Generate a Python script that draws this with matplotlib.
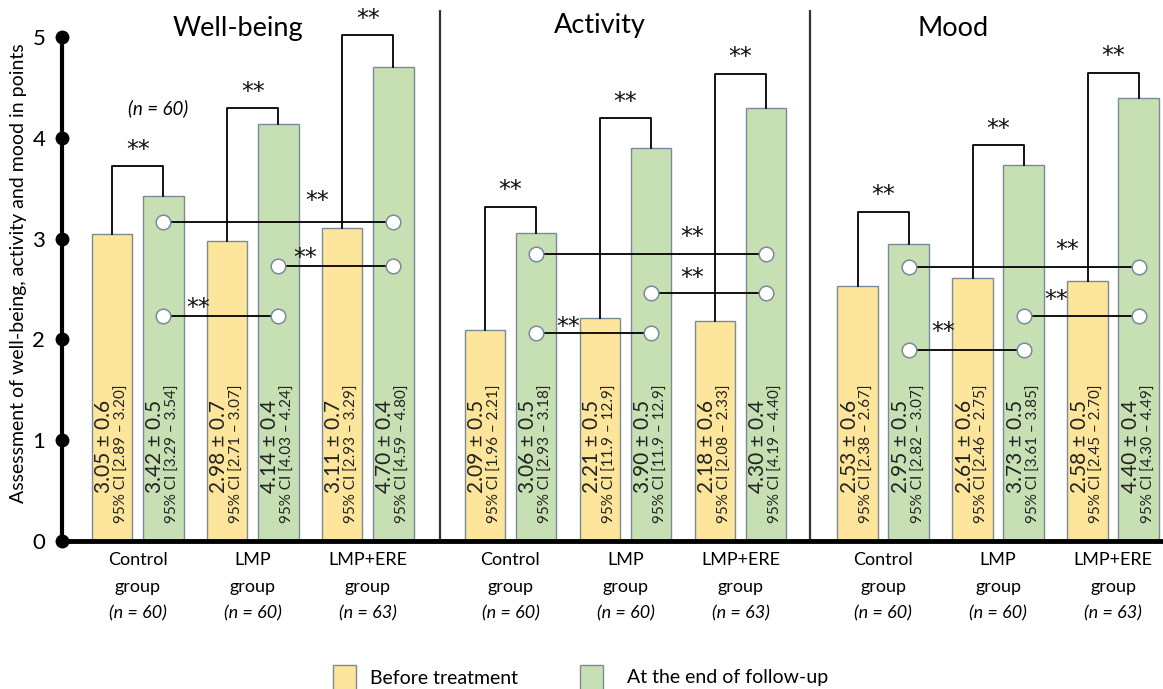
import numpy as np
import matplotlib.pyplot as plt
from matplotlib.patches import Rectangle

plt.rcParams['font.family'] = ['Lato', 'DejaVu Sans']

# ---- data ----
panels = ['Well-being', 'Activity', 'Mood']
groups = ['Control', 'LMP', 'LMP+ERE']
group_n = ['(n = 60)', '(n = 60)', '(n = 63)']

before_mean = [[3.05, 2.98, 3.11], [2.09, 2.21, 2.18], [2.53, 2.61, 2.58]]
before_sd = [[0.6, 0.7, 0.7], [0.5, 0.5, 0.6], [0.6, 0.6, 0.5]]
before_ci = [['2.89 – 3.20', '2.71 – 3.07', '2.93 – 3.29'],
             ['1.96 – 2.21', '11.9 – 12.9', '2.08 – 2.33'],
             ['2.38 – 2.67', '2.46 – 2.75', '2.45 – 2.70']]

after_mean = [[3.42, 4.14, 4.70], [3.06, 3.90, 4.30], [2.95, 3.73, 4.40]]
after_sd = [[0.5, 0.4, 0.4], [0.5, 0.5, 0.4], [0.5, 0.5, 0.4]]
after_ci = [['3.29 – 3.54', '4.03 – 4.24', '4.59 – 4.80'],
            ['2.93 – 3.18', '11.9 – 12.9', '4.19 – 4.40'],
            ['2.82 – 3.07', '3.61 – 3.85', '4.30 – 4.49']]

# before vs after brackets (height of bracket top)
bracket_top = [[3.72, 4.30, 5.02], [3.32, 4.20, 4.64], [3.27, 3.93, 4.65]]

# between-group comparisons of the follow-up bars: (group a, group b, level)
between = [[(0, 2, 3.17), (1, 2, 2.73), (0, 1, 2.23)],
           [(0, 2, 2.85), (1, 2, 2.46), (0, 1, 2.06)],
           [(0, 2, 2.72), (1, 2, 2.23), (0, 1, 1.90)]]

# ---- layout ----
yellow = '#FDE59C'
green = '#C6E0B4'
edge = '#7A8A99'
bar_w = 0.35
half = 0.222
panel_step = 3.24
first = 0.66

# star placement along the between lines: (fraction along, offset above)
star_pos = [[(0.67, 0.20), (0.23, 0.08), (0.30, 0.08)],
            [(0.68, 0.17), (0.36, 0.15), (0.28, 0.06)],
            [(0.69, 0.17), (0.28, 0.16), (0.30, 0.17)]]

star_kw = dict(ha='center', va='center', fontsize=17, family='DejaVu Sans', color='#111111')

fig = plt.figure(figsize=(11.63, 6.89), dpi=100)
ax = fig.add_axes([62 / 1163, 148 / 689, 1101 / 1163, 536 / 689])
ax.set_xlim(0, 9.574)
ax.set_ylim(0, 5.32)

for p in range(3):
    centers = first + p * panel_step + np.arange(3)
    xb = centers - half
    xa = centers + half
    ax.bar(xb, before_mean[p], bar_w, color=yellow, edgecolor=edge, linewidth=1, zorder=2)
    ax.bar(xa, after_mean[p], bar_w, color=green, edgecolor=edge, linewidth=1, zorder=2)

    for g in range(3):
        for x, m, sd, ci in [(xb[g], before_mean[p][g], before_sd[p][g], before_ci[p][g]),
                             (xa[g], after_mean[p][g], after_sd[p][g], after_ci[p][g])]:
            ax.text(x - 0.07, 0.48, f'{m:.2f} ± {sd:.1f}', rotation=90, ha='center',
                    va='bottom', fontsize=15, color='#222222', zorder=3)
            ax.text(x + 0.085, 0.18, f'95% CI [{ci}]', rotation=90, ha='center',
                    va='bottom', fontsize=11, color='#222222', zorder=3)

        # before/after bracket
        top = bracket_top[p][g]
        ax.plot([xb[g], xb[g], xa[g], xa[g]],
                [before_mean[p][g], top, top, after_mean[p][g]],
                color='black', lw=1.3, zorder=3)
        ax.text(centers[g], top + 0.16, '**', **star_kw)

        # x labels
        ax.text(centers[g], -0.19, groups[g], ha='center', va='center', fontsize=13, clip_on=False)
        ax.text(centers[g], -0.46, 'group', ha='center', va='center', fontsize=13, clip_on=False)
        ax.text(centers[g], -0.72, group_n[g], ha='center', va='center', fontsize=13,
                style='italic', clip_on=False)

    for (a, b, lvl), (fr, off) in zip(between[p], star_pos[p]):
        ax.plot([xa[a], xa[b]], [lvl, lvl], color='black', lw=1.3, zorder=4)
        ax.plot([xa[a], xa[b]], [lvl, lvl], 'o', ms=10.5, mfc='white', mec=edge, mew=1.1, zorder=5)
        sx = xa[a] + fr * (xa[b] - xa[a])
        ax.text(sx, lvl + off, '**', zorder=5, **star_kw)

# panel titles
ax.text(1.53, 5.09, panels[0], ha='center', va='center', fontsize=19.5)
ax.text(4.68, 5.12, panels[1], ha='center', va='center', fontsize=19.5)
ax.text(7.75, 5.09, panels[2], ha='center', va='center', fontsize=19.5)
ax.text(0.835, 4.30, '(n = 60)', ha='center', va='center', fontsize=13.5, style='italic')

# separators
ax.vlines([3.287, 6.504], 0, 5.27, color='#333333', lw=1.6, zorder=1)

# axes styling
for s in ['top', 'right']:
    ax.spines[s].set_visible(False)
ax.spines['left'].set_bounds(0, 5)
ax.spines['left'].set_linewidth(3)
ax.spines['bottom'].set_linewidth(3.5)
ax.set_xticks([])
ax.set_yticks(range(6))
ax.tick_params(axis='y', length=0, pad=12, labelsize=16)
ax.plot([0] * 6, range(6), 'o', ms=9, color='black', clip_on=False, zorder=6)
ax.set_ylabel('Assessment of well-being, activity and mood in points', fontsize=14, labelpad=4)

# legend
fig.add_artist(Rectangle((333 / 1163, -0.01), 23 / 1163, 31 / 689, transform=fig.transFigure,
                         facecolor=yellow, edgecolor=edge, lw=1))
fig.text(370 / 1163, 11 / 689, 'Before treatment', ha='left', va='center', fontsize=14)
fig.add_artist(Rectangle((580 / 1163, -0.01), 23 / 1163, 31 / 689, transform=fig.transFigure,
                         facecolor=green, edgecolor=edge, lw=1))
fig.text(627 / 1163, 11 / 689, 'At the end of follow-up', ha='left', va='center', fontsize=14)

fig.savefig('out.png', dpi=100)
